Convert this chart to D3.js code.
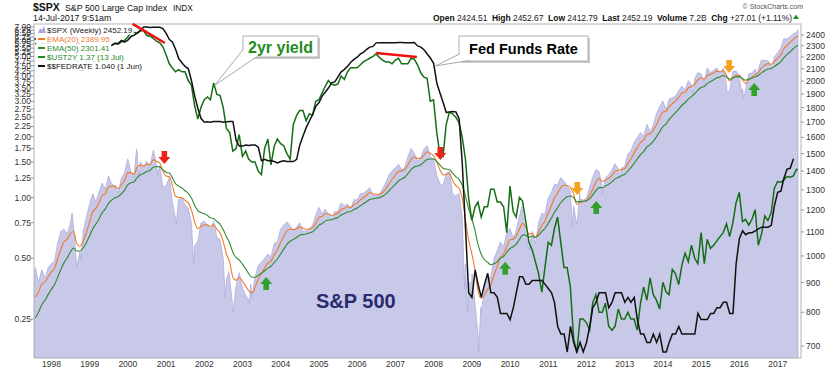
<!DOCTYPE html>
<html><head><meta charset="utf-8">
<script src="https://cdn.jsdelivr.net/npm/d3@7"></script>
<style>
body{margin:0;background:#fff}
svg{display:block}
text{font-family:"Liberation Sans",Arial,Helvetica,sans-serif}
</style>
</head><body>
<svg id="c" width="840" height="372"></svg>
<script>
// ---------------- DATA ----------------
// $SPX monthly closes, Jul 1997 .. Jul 2017 (last = 14-Jul-2017)
const spxStart = [1997, 7];
const spxClose = [
 954,899,947,915,955,970,
 980,1049,1102,1112,1091,1134,1121,957,1017,1099,1164,1229,
 1280,1238,1286,1335,1302,1373,1329,1320,1283,1363,1389,1469,
 1394,1366,1499,1452,1421,1455,1431,1518,1437,1429,1315,1320,
 1366,1240,1160,1250,1256,1224,1211,1134,1041,1060,1140,1148,
 1130,1107,1147,1077,1067,990,912,916,815,886,936,880,
 856,841,848,917,964,975,990,1008,996,1051,1058,1112,
 1131,1145,1126,1107,1121,1141,1102,1104,1115,1130,1174,1212,
 1181,1204,1181,1157,1192,1191,1234,1220,1229,1207,1250,1248,
 1280,1281,1295,1311,1270,1270,1277,1304,1336,1378,1401,1418,
 1438,1407,1421,1482,1531,1503,1455,1474,1527,1549,1481,1468,
 1379,1331,1323,1386,1400,1280,1267,1283,1166,969,896,903,
 826,735,798,873,919,919,988,1021,1057,1036,1096,1115,
 1074,1105,1169,1187,1089,1031,1102,1049,1141,1183,1181,1258,
 1286,1327,1326,1364,1345,1321,1292,1219,1131,1253,1247,1258,
 1312,1366,1409,1398,1310,1362,1379,1407,1441,1412,1416,1426,
 1498,1515,1569,1598,1631,1606,1686,1633,1682,1757,1806,1848,
 1783,1860,1872,1884,1924,1960,1931,2003,1972,2018,2068,2059,
 1995,2105,2068,2086,2107,2063,2104,1972,1920,2079,2080,2044,
 1940,1932,2060,2065,2097,2099,2174,2171,2168,2126,2199,2239,
 2279,2364,2363,2384,2412,2423,2452.19
];
const spxLastDate = "2017-07-14";
// extra weekly closes (intra-month swings)
const spxWeekDates = ["1997-07-18","1998-07-17","1998-10-09","2000-03-24","2000-04-14","2000-09-01","2000-10-13","2001-04-06","2001-09-21","2002-07-19","2002-08-23","2002-10-04","2003-03-07","2003-03-21","2008-10-24","2008-11-21","2009-01-02","2009-03-06","2009-03-27","2010-04-23","2010-07-02","2011-08-19","2011-10-07","2011-10-28","2012-06-01","2012-11-16","2014-10-17","2015-09-04","2016-01-22","2016-02-12","2016-06-24","2016-11-04"];
const spxWeekValues = [915,1186,984,1527,1356,1521,1374,1128,966,848,940,801,829,895,877,800,932,683,816,1217,1023,1124,1155,1285,1278,1360,1887,1921,1907,1865,2037,2085];

// EMA(20) weekly, sampled at month ends
const ema20 = [
 850,867,895,902,921,938,
 953,987,1027,1057,1069,1092,1102,1051,1039,1060,1096,1143,
 1191,1207,1235,1270,1281,1313,1319,1319,1306,1326,1348,1390,
 1391,1382,1423,1433,1429,1438,1436,1465,1455,1446,1400,1372,
 1370,1325,1267,1261,1259,1247,1234,1199,1144,1115,1124,1132,
 1131,1123,1131,1112,1096,1059,1008,976,920,908,918,905,
 888,872,864,883,911,933,953,972,980,1005,1024,1055,
 1082,1104,1112,1110,1114,1123,1116,1112,1113,1119,1138,1164,
 1170,1182,1182,1173,1180,1184,1202,1208,1215,1212,1225,1233,
 1249,1260,1272,1286,1280,1277,1277,1286,1304,1330,1355,1377,
 1398,1401,1408,1434,1468,1480,1471,1472,1491,1511,1501,1489,
 1451,1409,1379,1381,1388,1350,1321,1308,1258,1157,1066,1009,
 945,872,846,855,877,892,926,959,993,1008,1039,1066,
 1069,1082,1112,1138,1121,1090,1094,1078,1100,1129,1147,1186,
 1221,1258,1282,1311,1323,1322,1312,1279,1227,1236,1240,1246,
 1269,1303,1340,1360,1343,1350,1360,1376,1399,1404,1408,1414,
 1443,1468,1503,1536,1569,1582,1618,1623,1644,1684,1727,1769,
 1774,1804,1828,1848,1875,1905,1914,1945,1954,1976,2008,2026,
 2015,2047,2054,2065,2080,2074,2085,2045,2001,2028,2046,2045,
 2008,1981,2009,2029,2053,2069,2106,2129,2143,2137,2159,2187,
 2219,2270,2303,2331,2359,2381,2389.95
];
// EMA(50) weekly, sampled at month ends
const ema50 = [
 782,801,824,839,858,876,
 893,918,947,973,992,1015,1032,1020,1020,1033,1054,1082,
 1114,1134,1158,1186,1205,1232,1248,1260,1264,1280,1297,1325,
 1336,1341,1366,1380,1387,1398,1403,1421,1424,1425,1407,1393,
 1389,1365,1332,1319,1309,1295,1282,1258,1223,1197,1188,1182,
 1174,1163,1160,1147,1134,1111,1079,1053,1015,994,985,968,
 950,933,919,919,926,934,943,953,960,975,988,1008,
 1028,1047,1060,1068,1076,1086,1089,1091,1095,1101,1113,1129,
 1137,1148,1153,1154,1160,1165,1176,1183,1190,1193,1202,1209,
 1220,1230,1240,1251,1254,1257,1260,1267,1278,1294,1311,1328,
 1346,1356,1366,1385,1408,1423,1428,1435,1450,1466,1468,1468,
 1454,1434,1416,1411,1409,1388,1369,1355,1325,1268,1208,1159,
 1106,1047,1007,986,975,966,970,978,991,998,1014,1030,
 1037,1048,1067,1086,1086,1077,1081,1076,1086,1102,1115,1138,
 1162,1188,1210,1235,1253,1264,1268,1260,1239,1241,1242,1244,
 1255,1273,1295,1311,1311,1319,1329,1341,1357,1366,1374,1382,
 1401,1419,1443,1468,1494,1512,1540,1555,1575,1604,1636,1670,
 1688,1716,1741,1764,1790,1817,1835,1862,1880,1902,1929,1950,
 1957,1981,1995,2010,2026,2032,2044,2032,2014,2024,2033,2035,
 2020,2006,2015,2023,2035,2045,2066,2083,2097,2102,2117,2137,
 2160,2193,2220,2246,2273,2297,2301.41
];
// $UST2Y month-end yields (%), Jul 1997 .. 13-Jul-2017
const ust2y = [
 5.75,6.0,5.85,5.65,5.8,5.7,
 5.4,5.6,5.6,5.6,5.55,5.5,5.5,4.8,4.3,4.3,4.7,4.5,
 4.6,5.1,5.0,5.2,5.5,5.5,5.7,5.8,5.75,5.9,6.0,6.25,
 6.6,6.6,6.5,6.7,6.7,6.35,6.3,6.15,5.95,5.85,5.6,5.1,
 4.6,4.4,4.2,4.3,4.2,4.2,3.8,3.6,2.85,2.45,2.8,3.05,
 3.15,3.05,3.7,3.25,3.2,2.8,2.2,2.1,1.7,1.75,2.05,1.6,
 1.7,1.55,1.5,1.5,1.35,1.3,1.75,1.95,1.45,1.8,1.95,1.85,
 1.8,1.65,1.55,2.3,2.55,2.7,2.7,2.4,2.6,2.55,3.0,3.05,
 3.3,3.55,3.8,3.65,3.6,3.65,4.0,3.85,4.2,4.4,4.4,4.4,
 4.55,4.7,4.8,4.9,5.0,5.15,4.95,4.8,4.7,4.7,4.6,4.8,
 4.9,4.6,4.6,4.6,4.9,4.85,4.55,4.15,3.95,3.9,3.0,3.05,
 2.1,1.65,1.6,2.3,2.65,2.6,2.5,2.35,2.0,1.55,1.0,0.77,
 0.9,0.95,0.8,0.9,0.9,1.1,1.1,0.95,0.95,0.9,0.67,1.14,
 0.85,0.8,1.0,0.96,0.76,0.6,0.55,0.48,0.42,0.34,0.45,0.6,
 0.58,0.7,0.8,0.6,0.45,0.45,0.36,0.2,0.17,0.25,0.25,0.24,
 0.22,0.3,0.33,0.27,0.27,0.3,0.23,0.22,0.23,0.28,0.25,0.25,
 0.27,0.25,0.25,0.22,0.3,0.36,0.31,0.4,0.33,0.31,0.28,0.38,
 0.34,0.33,0.44,0.42,0.37,0.46,0.53,0.48,0.58,0.5,0.47,0.67,
 0.47,0.62,0.56,0.58,0.61,0.64,0.67,0.74,0.64,0.75,0.94,1.06,
 0.76,0.78,0.73,0.78,0.87,0.58,0.66,0.81,0.77,0.84,1.11,1.20,
 1.19,1.22,1.27,1.26,1.28,1.38,1.37
];
const ust2yLastDate = "2017-07-13";
// $$FEDRATE monthly (%), Jul 1997 .. Jun 2017 (first of month)
const fedRate = [
 5.54,5.54,5.54,5.50,5.52,5.50,
 5.56,5.51,5.49,5.45,5.49,5.56,5.54,5.55,5.51,5.07,4.83,4.68,
 4.63,4.76,4.81,4.74,4.74,4.76,4.99,5.07,5.22,5.20,5.42,5.30,
 5.45,5.73,5.85,6.02,6.27,6.53,6.54,6.50,6.52,6.51,6.51,6.40,
 5.98,5.49,5.31,4.80,4.21,3.97,3.77,3.65,3.07,2.49,2.09,1.82,
 1.73,1.74,1.73,1.75,1.75,1.75,1.73,1.74,1.75,1.75,1.34,1.24,
 1.24,1.26,1.25,1.26,1.26,1.22,1.01,1.03,1.01,1.01,1.00,0.98,
 1.00,1.01,1.00,1.00,1.00,1.03,1.26,1.43,1.61,1.76,1.93,2.16,
 2.28,2.50,2.63,2.79,3.00,3.04,3.26,3.50,3.62,3.78,4.00,4.16,
 4.29,4.49,4.59,4.79,4.94,4.99,5.24,5.25,5.25,5.25,5.25,5.24,
 5.25,5.26,5.26,5.25,5.25,5.25,5.26,5.02,4.94,4.76,4.49,4.24,
 3.94,2.98,2.61,2.28,1.98,2.00,2.01,2.00,1.81,0.97,0.39,0.16,
 0.15,0.22,0.18,0.15,0.18,0.21,0.16,0.16,0.15,0.12,0.12,0.12,
 0.11,0.13,0.16,0.20,0.20,0.18,0.18,0.19,0.19,0.19,0.19,0.18,
 0.17,0.16,0.14,0.10,0.09,0.09,0.07,0.10,0.08,0.07,0.08,0.07,
 0.08,0.10,0.13,0.14,0.16,0.16,0.16,0.13,0.14,0.16,0.16,0.16,
 0.14,0.15,0.14,0.15,0.11,0.09,0.09,0.08,0.08,0.09,0.08,0.09,
 0.07,0.07,0.08,0.09,0.09,0.10,0.09,0.09,0.09,0.09,0.09,0.12,
 0.11,0.11,0.11,0.12,0.12,0.13,0.13,0.14,0.14,0.12,0.12,0.24,
 0.34,0.38,0.36,0.37,0.37,0.38,0.39,0.40,0.40,0.40,0.41,0.54,
 0.65,0.66,0.79,0.90,0.91,1.04
];
const yearTicks = d3.range(1998, 2018);
const leftTicks = d3.range(1, 29).map(i => i * 0.25);
const rightTicks = d3.range(700, 2401, 100);
const legendLabels = ["$SPX (Weekly) 2452.19","EMA(20) 2389.95","EMA(50) 2301.41","$UST2Y 1.37 (13 Jul)","$$FEDRATE 1.040 (1 Jun)"];
// annotation arrows: date, S&P level at tip, direction, colour
const arrowDates = ["2000-12-15","2008-03-05","2003-08-15","2009-11-15","2011-10-05","2012-04-03","2015-09-25","2016-05-22"];
const arrowLevels = [1440,1463,920,977,1273,1243,2065,1985];
const arrowDirs = ["down","down","up","up","down","up","down","up"];
const arrowKinds = ["red","red","green","green","orange","green","orange","green"];
// red trend lines on the yield (left axis)
const redLineDates = [["2000-02-15","2000-12-20"],["2006-07-01","2007-07-25"]];
const redLineYields = [[7.25,5.83],[5.2,4.97]];

// ---------------- SETUP ----------------
const W = 840, H = 372, L = 34, R = 801, T = 24, B = 358;
const parse = d3.timeParse("%Y-%m-%d");
const svg = d3.select("#c");
svg.append("rect").attr("width", W).attr("height", H).attr("fill", "#fff");
const defs = svg.append("defs");
defs.append("clipPath").attr("id", "clip").append("rect")
  .attr("x", L).attr("y", T).attr("width", R - L).attr("height", B - T);

const x = d3.scaleTime().domain([new Date(1997, 6, 18), new Date(2017, 7, 12)]).range([L, R]);
const yR = d3.scaleLog().domain([700, 2400]).range([346, 35]);
const yL = d3.scaleLog().domain([0.25, 7]).range([319, 27]);
const yF = d3.scaleLog().domain([0.07, 6.54]).range([352, 27]);

const monthEnd = i => new Date(spxStart[0], spxStart[1] - 1 + i + 1, 0);
const monthStart = i => new Date(spxStart[0], spxStart[1] - 1 + i, 1);

let spx = spxClose.map((v, i) => ({ date: i === spxClose.length - 1 ? parse(spxLastDate) : monthEnd(i), v }));
spxWeekDates.forEach((d, i) => spx.push({ date: parse(d), v: spxWeekValues[i] }));
spx.sort((a, b) => a.date - b.date);
const e20 = ema20.map((v, i) => ({ date: i === ema20.length - 1 ? parse(spxLastDate) : monthEnd(i), v }));
const e50 = ema50.map((v, i) => ({ date: i === ema50.length - 1 ? parse(spxLastDate) : monthEnd(i), v }));
const u2 = ust2y.map((v, i) => ({ date: i === ust2y.length - 1 ? parse(ust2yLastDate) : monthEnd(i), v }));
const ff = fedRate.map((v, i) => ({ date: monthStart(i), v }));

const plot = svg.append("g").attr("clip-path", "url(#clip)");
plot.append("path").datum(spx)
  .attr("d", d3.area().x(d => x(d.date)).y0(B).y1(d => yR(d.v)))
  .attr("fill", "#c8c8e8").attr("stroke", "#adadde").attr("stroke-width", 0.8);
plot.append("path").datum(e20)
  .attr("d", d3.line().x(d => x(d.date)).y(d => yR(d.v)).curve(d3.curveMonotoneX))
  .attr("fill", "none").attr("stroke", "#f07a2c").attr("stroke-width", 1.1);
plot.append("path").datum(e50)
  .attr("d", d3.line().x(d => x(d.date)).y(d => yR(d.v)).curve(d3.curveMonotoneX))
  .attr("fill", "none").attr("stroke", "#2e8b2e").attr("stroke-width", 1.1);
plot.append("path").datum(u2)
  .attr("d", d3.line().x(d => x(d.date)).y(d => yL(d.v)))
  .attr("fill", "none").attr("stroke", "#146e14").attr("stroke-width", 1.5);
plot.append("path").datum(ff)
  .attr("d", d3.line().x(d => x(d.date)).y(d => yF(d.v)))
  .attr("fill", "none").attr("stroke", "#111").attr("stroke-width", 1.5);

// frame
svg.append("rect").attr("x", L).attr("y", T).attr("width", R - L).attr("height", B - T)
  .attr("fill", "none").attr("stroke", "#b4b4b4").attr("stroke-width", 1);

// axes
const ax = svg.append("g").attr("font-size", 8.5).attr("fill", "#333");
yearTicks.forEach(yr => {
  ax.append("text").attr("x", x(new Date(yr, 0, 1))).attr("y", 367)
    .attr("text-anchor", "middle").text(yr);
});
leftTicks.forEach(v => {
  const yy = yL(v);
  ax.append("line").attr("x1", L - 3).attr("x2", L).attr("y1", yy).attr("y2", yy).attr("stroke", "#999");
  ax.append("text").attr("x", L - 3).attr("y", yy + 3).attr("text-anchor", "end").text(v.toFixed(2));
});
rightTicks.forEach(v => {
  const yy = yR(v);
  ax.append("line").attr("x1", R).attr("x2", R + 3).attr("y1", yy).attr("y2", yy).attr("stroke", "#999");
  ax.append("text").attr("x", R + 5).attr("y", yy + 3).text(v);
});

// header
const hd = svg.append("g").attr("fill", "#111");
hd.append("text").attr("x", 33).attr("y", 11).attr("font-size", 10.5).attr("font-weight", "bold").text("$SPX");
hd.append("text").attr("x", 65).attr("y", 11).attr("font-size", 8.8).text("S&P 500 Large Cap Index");
hd.append("text").attr("x", 173).attr("y", 11).attr("font-size", 8.3).text("INDX");
hd.append("text").attr("x", 33).attr("y", 21).attr("font-size", 8.8).text("14-Jul-2017 9:51am");
hd.append("text").attr("x", 803).attr("y", 8.5).attr("font-size", 7).attr("fill", "#555")
  .attr("text-anchor", "end").text("\u00A9 StockCharts.com");
const info = [["Open"," 2424.51  "],["High"," 2452.67  "],["Low"," 2412.79  "],["Last"," 2452.19  "],["Volume"," 7.2B  "],["Chg"," +27.01 (+1.11%)"]];
const it = hd.append("text").attr("x", 433).attr("y", 20.5).attr("font-size", 8.5)
  .attr("textLength", 359).attr("lengthAdjust", "spacing").attr("xml:space", "preserve");
info.forEach(([a, b]) => {
  it.append("tspan").attr("font-weight", "bold").text(a);
  it.append("tspan").attr("fill", "#222").text(b);
});
hd.append("path").attr("d", "M793,19 L796,14.5 L799,19 Z").attr("fill", "#1a9a1a");

// legend
const lg = svg.append("g").attr("font-family", "'DejaVu Sans',Verdana,sans-serif").attr("font-size", 8);
const lgColors = ["#222", "#f07a2c", "#2e8b2e", "#1a8a1a", "#111"];
legendLabels.forEach((t, i) => {
  const by = 33 + i * 9;
  const txt = lg.append("text").attr("x", 47).attr("y", by).attr("fill", lgColors[i]).text(t);
  const bb = txt.node().getBBox();
  lg.insert("rect", "text").attr("x", 36).attr("y", by - 7.5).attr("width", bb.x + bb.width - 36 + 1).attr("height", 9).attr("fill", "#fff");
  if (i === 0) {
    lg.append("path").attr("d", `M38,${by} L40,${by - 5} L42,${by - 3} L44,${by - 7} L46,${by} Z`).attr("fill", "#a9a9dc");
  } else {
    lg.append("line").attr("x1", 38).attr("x2", 45).attr("y1", by - 3).attr("y2", by - 3)
      .attr("stroke", lgColors[i]).attr("stroke-width", 2);
  }
});

// red trend lines
redLineDates.forEach((pair, i) => {
  svg.append("line")
    .attr("x1", x(parse(pair[0]))).attr("y1", yL(redLineYields[i][0]))
    .attr("x2", x(parse(pair[1]))).attr("y2", yL(redLineYields[i][1]))
    .attr("stroke", "#f01010").attr("stroke-width", 2.5);
});

// arrows
const arrowFill = { red: "#e8231c", green: "#34a02c", orange: "#f7a21e" };
arrowDates.forEach((d, i) => {
  const tx = x(parse(d)), ty = yR(arrowLevels[i]);
  const s = arrowDirs[i] === "down" ? -1 : 1;
  const pts = [[0, 0], [-6, 7], [-2.8, 7], [-2.8, 13], [2.8, 13], [2.8, 7], [6, 7]]
    .map(([a, b]) => [tx + a, ty + s * b]);
  svg.append("path").attr("d", "M" + pts.map(p => p.join(",")).join("L") + "Z")
    .attr("fill", arrowFill[arrowKinds[i]]);
});

// callouts
function callout(bx, by, bw, bh, tip, baseA, baseB, label, color, fs, ty) {
  const g = svg.append("g");
  g.append("rect").attr("x", bx + 2).attr("y", by + 2).attr("width", bw).attr("height", bh).attr("fill", "#c9c9c9");
  g.append("rect").attr("x", bx).attr("y", by).attr("width", bw).attr("height", bh)
    .attr("fill", "#fff").attr("stroke", "#b0b0b0");
  g.append("path").attr("d", `M${baseA[0]},${baseA[1]} L${tip[0]},${tip[1]} L${baseB[0]},${baseB[1]} Z`).attr("fill", "#fff");
  g.append("path").attr("d", `M${baseA[0]},${baseA[1]} L${tip[0]},${tip[1]} L${baseB[0]},${baseB[1]}`)
    .attr("fill", "none").attr("stroke", "#a8a8a8");
  g.append("text").attr("x", bx + bw / 2).attr("y", ty).attr("text-anchor", "middle")
    .attr("font-size", fs).attr("font-weight", "bold").attr("fill", color).text(label);
}
const tip1 = [x(parse("2002-04-10")), yL(3.6)];
callout(243, 36, 75, 21, tip1, [243.5, 49], [257, 56.5], "2yr yield", "#1e8c1e", 16, 53);
const tip2 = [x(parse("2008-01-20")), yF(3.8)];
callout(459, 36, 129, 25, tip2, [459.5, 54], [469, 60.5], "Fed Funds Rate", "#000", 14.5, 54);

// big label
svg.append("text").attr("x", 316).attr("y", 308).attr("font-size", 20).attr("font-weight", "bold")
  .attr("fill", "#2b2a6e").text("S&P 500");
</script>
</body></html>
